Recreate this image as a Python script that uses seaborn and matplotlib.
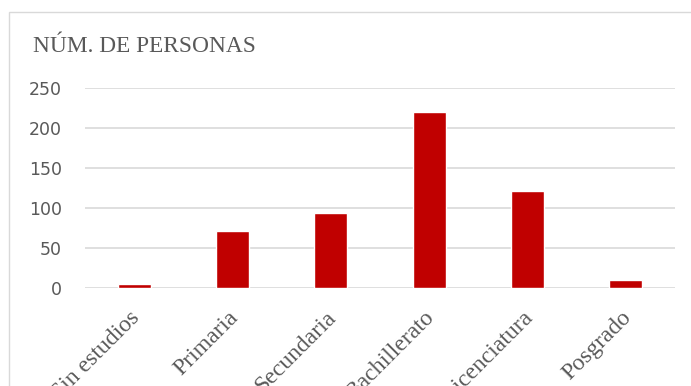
import matplotlib
matplotlib.use("Agg")
import matplotlib.pyplot as plt
import matplotlib.transforms as mtransforms
import seaborn as sns
from matplotlib.patches import Rectangle

categories = ["Sin estudios", "Primaria", "Secundaria", "Bachillerato", "Licenciatura", "Posgrado"]
values = [5, 71, 94, 220, 121, 10]
yticks = [0, 50, 100, 150, 200, 250]
title = "NÚM. DE PERSONAS"

sns.set_theme(style="white")
W, H = 691, 386
fig = plt.figure(figsize=(W / 100, H / 100), dpi=100)
ax = fig.add_axes([85 / W, 98 / H, 590 / W, 200 / H])

sns.barplot(x=categories, y=values, color="#C00000", width=0.335, saturation=1, ax=ax)

ax.set_xlim(-0.5, 5.5)
ax.set_ylim(0, 250)
ax.set_yticks(yticks)
ax.grid(axis="y", color="#d9d9d9", linewidth=1.2)
ax.set_axisbelow(True)
for s in ax.spines.values():
    s.set_visible(False)
ax.set_xlabel("")
ax.set_ylabel("")
ax.tick_params(axis="y", length=0, pad=16.5, labelsize=12.5, labelcolor="#595959")
ax.tick_params(axis="x", length=0, pad=0)
for lab in ax.get_yticklabels():
    lab.set_fontfamily("DejaVu Sans")
ax.set_xticks(range(len(categories)))
ax.set_xticklabels(categories, rotation=45, ha="right", rotation_mode="anchor",
                   fontfamily="Liberation Serif", fontsize=17, color="#595959")
offset = mtransforms.ScaledTranslation(-5 / 100, -19 / 100, fig.dpi_scale_trans)
for lab in ax.get_xticklabels():
    lab.set_transform(lab.get_transform() + offset)

fig.text(33 / W, 1 - 52 / H, title, fontfamily="Liberation Serif", fontsize=16.8,
         color="#595959", ha="left", va="baseline")

fig.patches.append(Rectangle((8.5 / W, -0.1), 2, 1.1 - 11.5 / H, transform=fig.transFigure,
                             fill=False, edgecolor="#d9d9d9", linewidth=1, zorder=-1))

fig.savefig("out.png", dpi=100)
